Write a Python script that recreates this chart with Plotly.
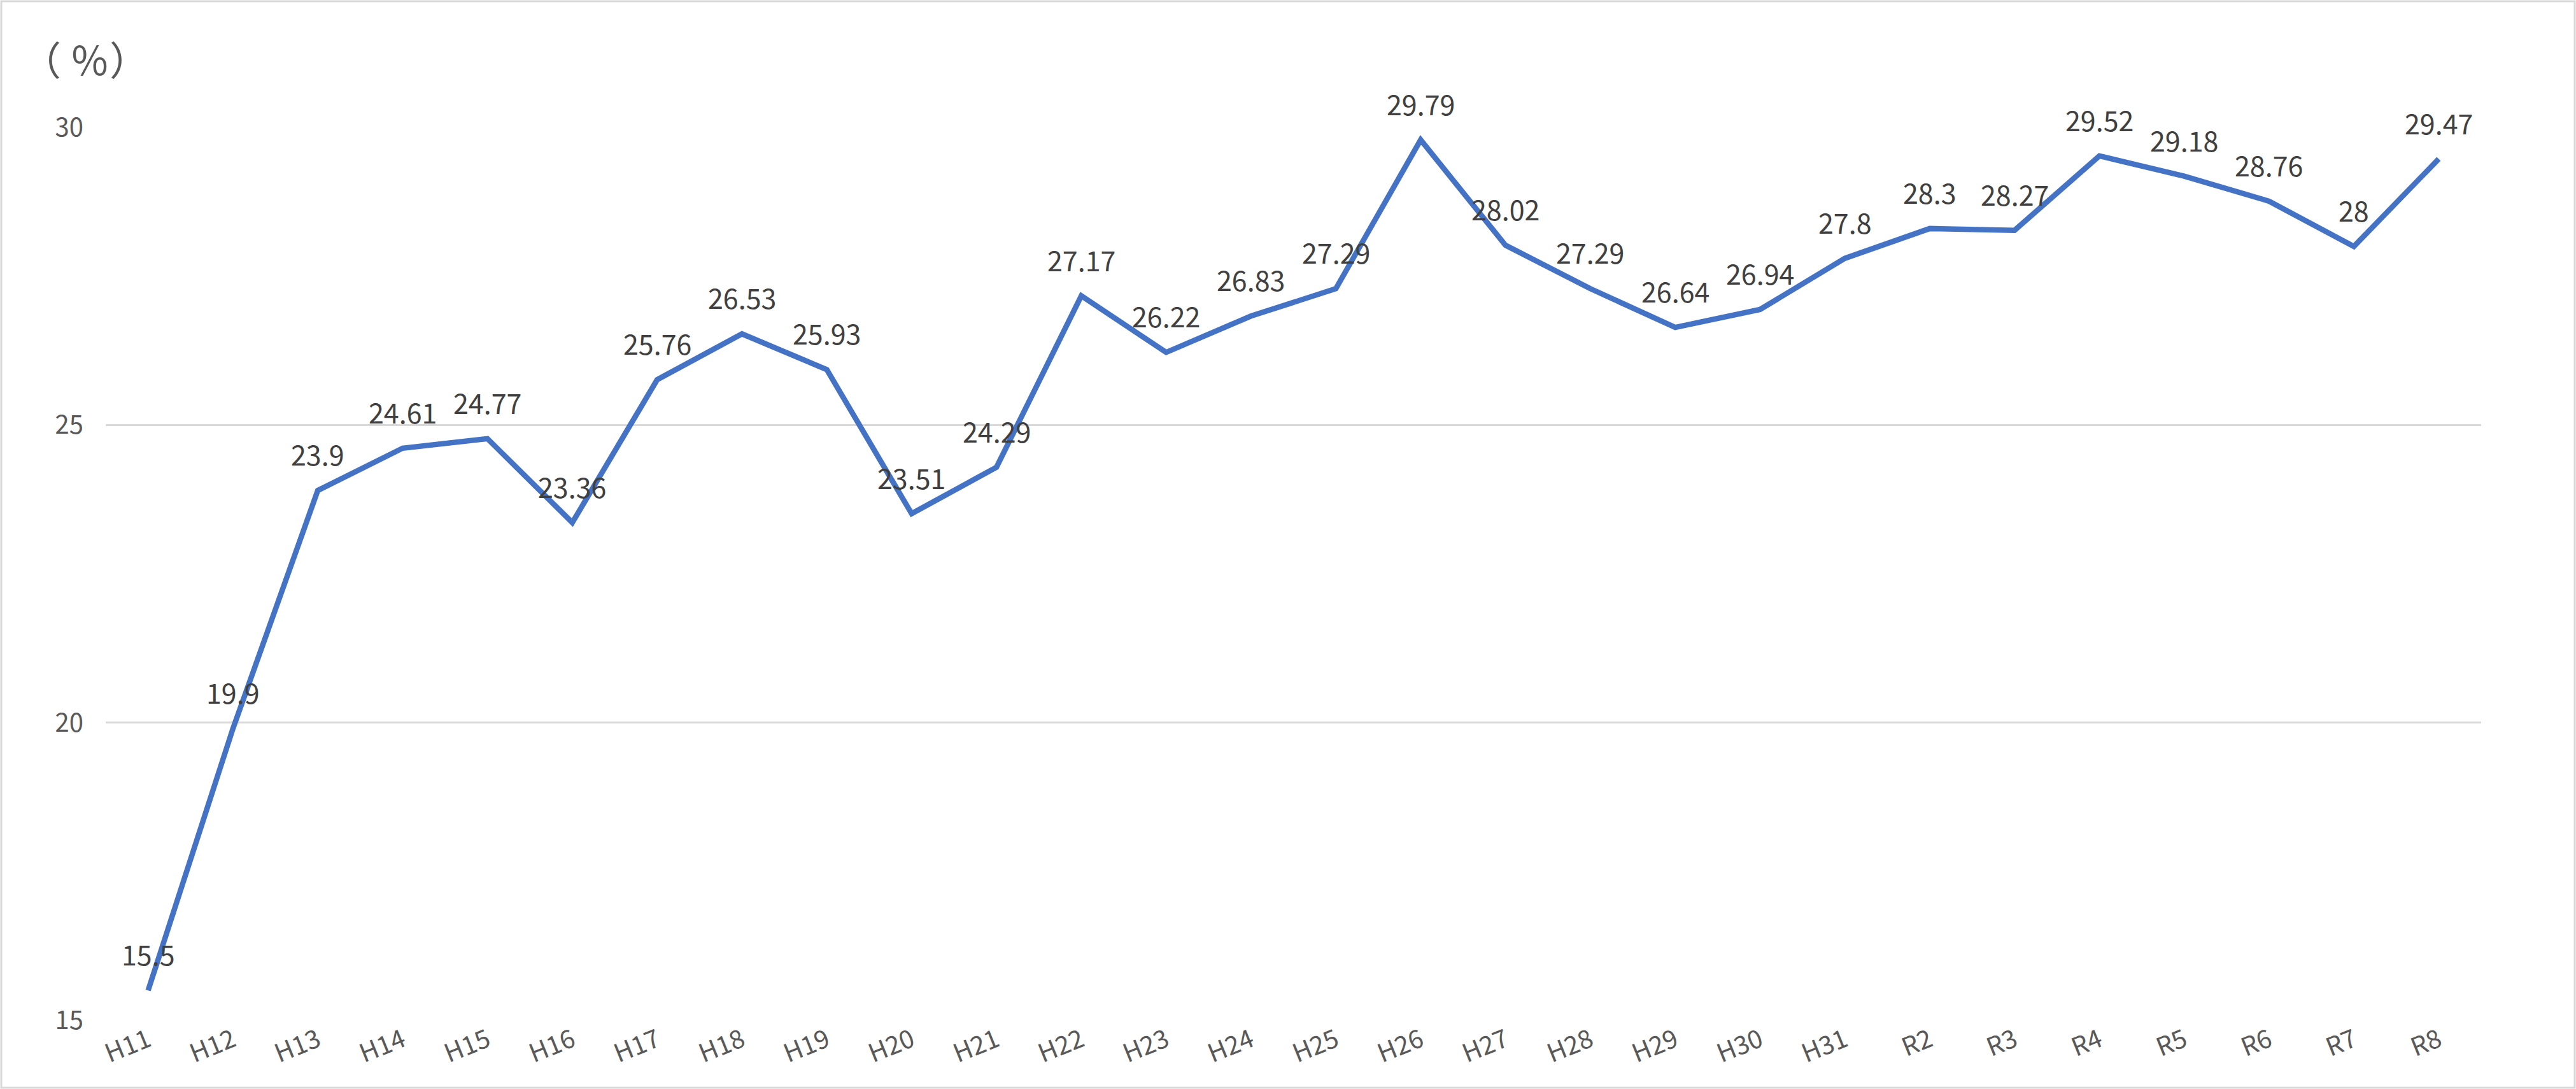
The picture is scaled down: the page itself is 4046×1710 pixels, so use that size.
import plotly.graph_objects as go

W, H = 4046, 1710
ML, MR, MT, MB = 166, 149, 200, 108

years = ["H11", "H12", "H13", "H14", "H15", "H16", "H17", "H18", "H19", "H20",
         "H21", "H22", "H23", "H24", "H25", "H26", "H27", "H28", "H29", "H30",
         "H31", "R2", "R3", "R4", "R5", "R6", "R7", "R8"]
rate = [15.5, 19.9, 23.9, 24.61, 24.77, 23.36, 25.76, 26.53, 25.93, 23.51,
        24.29, 27.17, 26.22, 26.83, 27.29, 29.79, 28.02, 27.29, 26.64, 26.94,
        27.8, 28.3, 28.27, 29.52, 29.18, 28.76, 28, 29.47]
y_ticks = [15, 20, 25, 30]

FONT = "Noto Sans CJK JP"

fig = go.Figure()
fig.add_trace(go.Scatter(
    x=years, y=rate, mode="lines",
    line=dict(color="#4472C4", width=8.5),
    hoverinfo="skip", showlegend=False,
))

# data labels above each point
for yr, v in zip(years, rate):
    fig.add_annotation(x=yr, y=v, text=f"{v:g}", showarrow=False,
                       yshift=58, yanchor="middle", xanchor="center",
                       font=dict(family=FONT, size=43, color="#404040"))

pw, ph = W - ML - MR, H - MT - MB

# unit label
fig.add_annotation(xref="paper", yref="paper", x=(134 - ML) / pw,
                   y=1 + 108 / ph, text="（ ％）", showarrow=False,
                   xanchor="center", yanchor="middle",
                   font=dict(family=FONT, size=62, color="#595959"))

# outer border
fig.add_shape(type="rect", xref="paper", yref="paper",
              x0=-(ML - 2) / pw, x1=1 + (MR - 2) / pw,
              y0=-(MB - 2) / ph, y1=1 + (MT - 2) / ph,
              line=dict(color="#D9D9D9", width=3), layer="below")

fig.update_layout(
    width=W, height=H,
    margin=dict(l=ML, r=MR, t=MT, b=MB),
    paper_bgcolor="white", plot_bgcolor="white",
    font=dict(family=FONT, color="#595959"),
    xaxis=dict(type="category", showgrid=False, showline=False, ticks="",
               tickangle=-22, tickfont=dict(size=40, color="#595959"),
               range=[-0.5, len(years) - 0.5]),
    yaxis=dict(range=[15, 30], tickvals=y_ticks, showgrid=True,
               gridcolor="#D9D9D9", gridwidth=3, zeroline=False,
               showline=False, ticks="", ticklabelstandoff=34,
               tickfont=dict(size=40, color="#595959")),
)

# drop the default page margin so the chart sits at the window corner
fig.write_html("out.html", config={"displayModeBar": False},
               post_script="document.body.style.margin='0';")
